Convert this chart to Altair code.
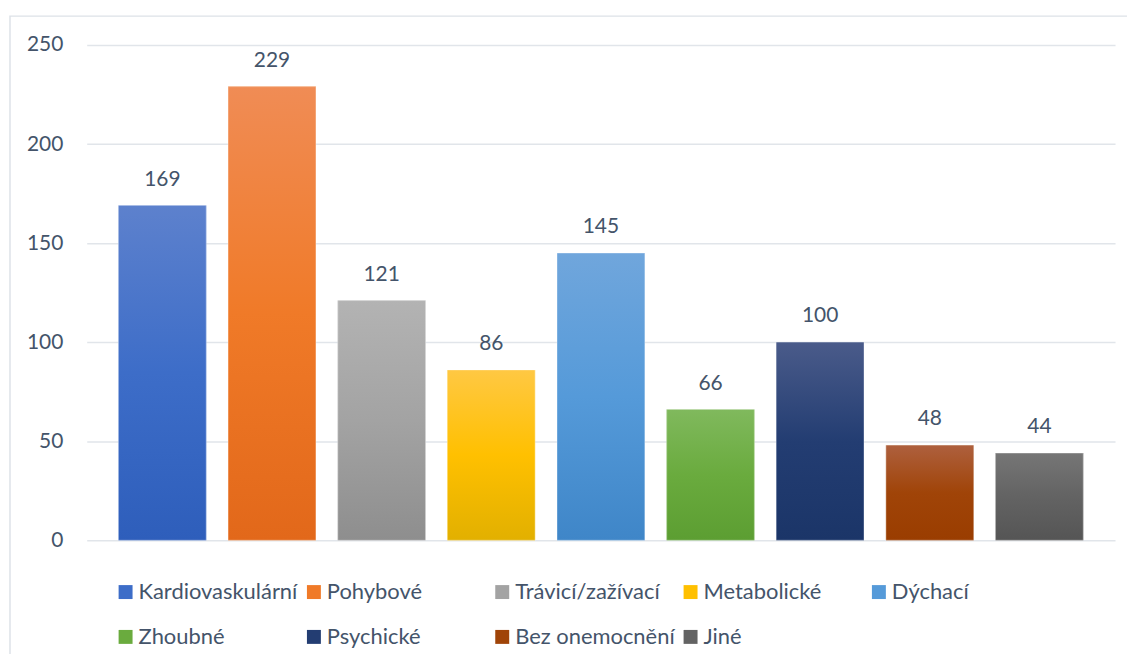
import altair as alt
import pandas as pd

categories = ["Kardiovaskulární", "Pohybové", "Trávicí/zažívací", "Metabolické", "Dýchací",
              "Zhoubné", "Psychické", "Bez onemocnění", "Jiné"]
values = [169, 229, 121, 86, 145, 66, 100, 48, 44]
top_colors = ["#5d81cd", "#f08c55", "#b3b3b3", "#ffc843", "#70a6dc", "#80b95d", "#4a5b8a", "#ae603e", "#767676"]
mid_colors = ["#3d6dc8", "#f07a28", "#a3a3a3", "#ffc000", "#559ad9", "#6aab3e", "#233d72", "#a04408", "#636363"]
bottom_colors = ["#2e5ebb", "#e2681a", "#8e8e8e", "#e2b000", "#3f86c8", "#5c9e32", "#1b3568", "#9a3d00", "#555555"]
y_ticks = [0, 50, 100, 150, 200, 250]

FONT = "Lato"
TXT = "#44546a"
W, H = 1032, 497

df = pd.DataFrame({"cat": categories, "val": values})

x_enc = alt.X("cat:N", scale=alt.Scale(domain=categories, paddingInner=0.2, paddingOuter=0.29), axis=None)
y_enc = alt.Y("val:Q", scale=alt.Scale(domain=[0, 250]), title=None,
              axis=alt.Axis(values=y_ticks, domain=False, ticks=False, labelPadding=24,
                            labelFont=FONT, labelFontSize=21, labelColor=TXT,
                            grid=True, gridColor="#e1e5ea", gridWidth=1.5))

base = alt.Chart(df).mark_bar().encode(
    x=x_enc, y=y_enc,
    color=alt.Color("cat:N", scale=alt.Scale(domain=categories, range=mid_colors),
                    legend=alt.Legend(title=None, orient="none", legendX=28, legendY=538,
                                      direction="horizontal", columns=5, symbolType="square",
                                      symbolSize=196, symbolStrokeWidth=0, labelFont=FONT,
                                      labelFontSize=22, labelColor=TXT, labelOffset=2,
                                      columnPadding=4, rowPadding=23, gridAlign="all",
                                      labelLimit=400, padding=0))
)

layers = [base]
for c, t, m, b in zip(categories, top_colors, mid_colors, bottom_colors):
    grad = {"gradient": "linear", "x1": 0, "y1": 0, "x2": 0, "y2": 1,
            "stops": [{"offset": 0, "color": t}, {"offset": 0.5, "color": m}, {"offset": 1, "color": b}]}
    layers.append(
        alt.Chart(df).transform_filter(alt.datum.cat == c)
        .mark_bar(fill=grad, stroke="#ffffff", strokeOpacity=0.35, strokeWidth=1)
        .encode(x=x_enc, y=y_enc)
    )

labels = alt.Chart(df).mark_text(baseline="bottom", dy=-16, font=FONT, fontSize=21, color=TXT).encode(
    x=x_enc, y=y_enc, text="val:Q")
layers.append(labels)

frame = alt.Chart(pd.DataFrame({"a": [0]})).mark_rect(filled=False, stroke="#dde2e8", strokeWidth=1.5).encode(
    x=alt.value(-77), x2=alt.value(1100), y=alt.value(-29), y2=alt.value(700))
layers.append(frame)

chart = alt.layer(*layers).properties(
    width=W, height=H,
    padding={"left": 79, "top": 36, "right": 12, "bottom": 113},
    autosize=alt.AutoSizeParams(type="none"),
).configure_view(strokeWidth=0)

chart.save("out.html", embed_options={"renderer": "svg", "actions": False})
